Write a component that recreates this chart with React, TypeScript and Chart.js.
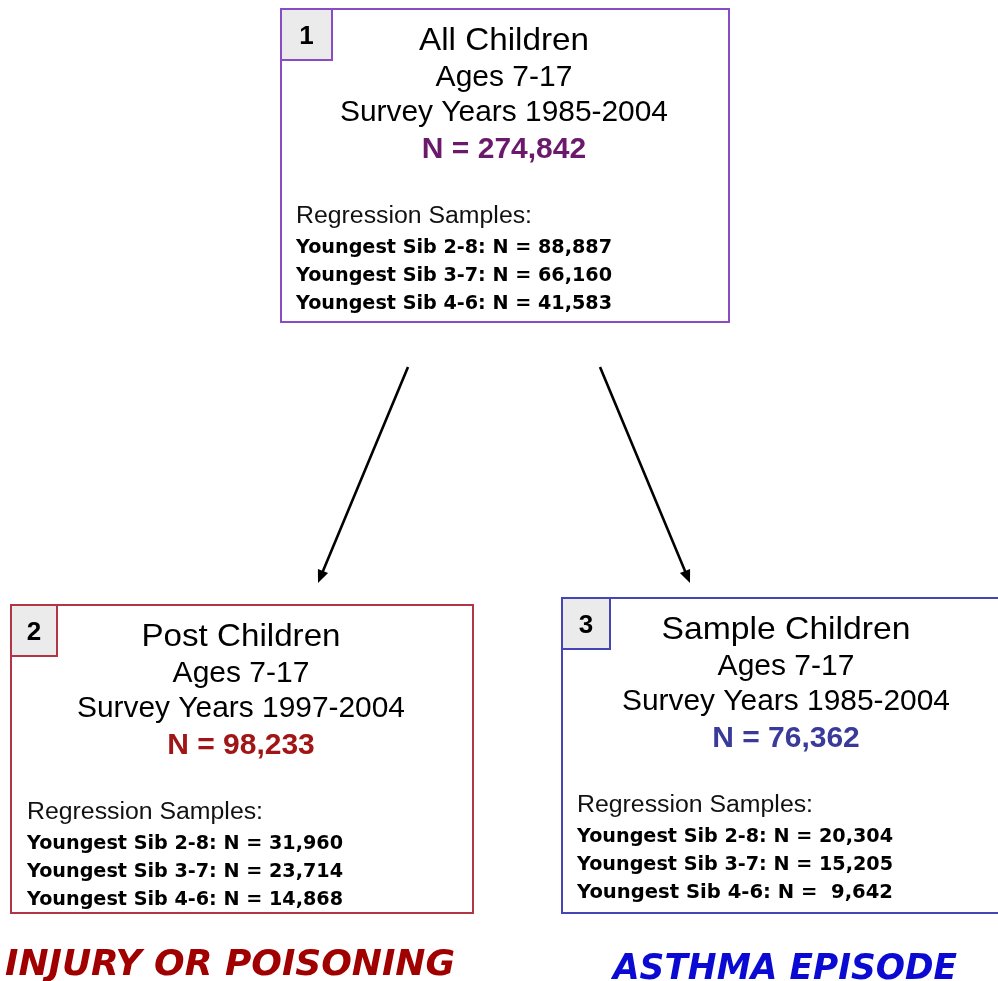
import React, { useEffect, useRef } from "react";
import { Chart, registerables } from "chart.js";

Chart.register(...registerables);

// ---- data ----
const boxNumbers = ["1", "2", "3"];
const boxTitles = ["All Children", "Post Children", "Sample Children"];
const boxAges = ["Ages 7-17", "Ages 7-17", "Ages 7-17"];
const boxYears = ["Survey Years 1985-2004", "Survey Years 1997-2004", "Survey Years 1985-2004"];
const boxTotals = [274842, 98233, 76362];
const sampleHeading = "Regression Samples:";
const sibGroups = ["Youngest Sib 2-8", "Youngest Sib 3-7", "Youngest Sib 4-6"];
const samplesAll = [88887, 66160, 41583];
const samplesPost = [31960, 23714, 14868];
const samplesSample = [20304, 15205, 9642];
const outcomeLabels = ["INJURY OR POISONING", "ASTHMA EPISODE"];

// ---- layout & style (page pixels) ----
const W = 998;
const H = 981;
const boxes = [
  { x: 281, y: 9, w: 448, h: 313, border: "#8a4cc4", totalColor: "#6b1a6b", cx: 504, samples: samplesAll, textX: 296, tabW: 51, tabH: 51, titleW: 170 },
  { x: 11, y: 605, w: 462, h: 308, border: "#b03545", totalColor: "#a01515", cx: 241, samples: samplesPost, textX: 27, tabW: 46, tabH: 51, titleW: 199 },
  { x: 562, y: 598, w: 450, h: 315, border: "#4545b5", totalColor: "#3a3a9a", cx: 786, samples: samplesSample, textX: 577, tabW: 48, tabH: 51, titleW: 249 },
];
const arrowLines = [
  [{ x: 408, y: 367 }, { x: 318, y: 583 }],
  [{ x: 600, y: 367 }, { x: 690, y: 583 }],
];
const outcomeStyle = [
  { x: 5, y: 975, w: 450, color: "#a00000" },
  { x: 613, y: 979, w: 344, color: "#0a0ad2" },
];

const fmt = (n: number) => n.toLocaleString("en-US");

function drawText(
  ctx: CanvasRenderingContext2D,
  text: string,
  x: number,
  y: number,
  font: string,
  color: string,
  align: "left" | "center",
  targetW?: number
) {
  ctx.save();
  ctx.font = font;
  ctx.fillStyle = color;
  ctx.textBaseline = "alphabetic";
  const m = ctx.measureText(text).width;
  const sx = targetW ? targetW / m : 1;
  const left = align === "center" ? x - (m * sx) / 2 : x;
  ctx.translate(left, y);
  ctx.scale(sx, 1);
  ctx.textAlign = "left";
  ctx.fillText(text, 0, 0);
  ctx.restore();
}

const flowPlugin = {
  id: "flow",
  beforeDraw(chart: any) {
    const ctx = chart.ctx;
    ctx.save();
    ctx.fillStyle = "#ffffff";
    ctx.fillRect(0, 0, chart.width, chart.height);
    ctx.restore();
  },
  afterDraw(chart: any) {
    const ctx: CanvasRenderingContext2D = chart.ctx;
    const xs = chart.scales.x;
    const ys = chart.scales.y;
    const px = (v: number) => xs.getPixelForValue(v);
    const py = (v: number) => ys.getPixelForValue(v);

    boxes.forEach((b, i) => {
      const x0 = px(b.x), y0 = py(b.y), x1 = px(b.x + b.w), y1 = py(b.y + b.h);
      ctx.save();
      ctx.strokeStyle = b.border;
      ctx.lineWidth = 2;
      ctx.strokeRect(x0, y0, x1 - x0, y1 - y0);
      // number tab
      const tx1 = px(b.x + b.tabW), ty1 = py(b.y + b.tabH);
      ctx.fillStyle = "#ebebeb";
      ctx.fillRect(x0, y0, tx1 - x0, ty1 - y0);
      ctx.strokeRect(x0, y0, tx1 - x0, ty1 - y0);
      ctx.restore();
      drawText(ctx, boxNumbers[i], (x0 + tx1) / 2, y0 + 35, "bold 26px 'Liberation Sans', Arial, sans-serif", "#000", "center");

      const cx = px(b.cx);
      const top = y0;
      drawText(ctx, boxTitles[i], cx, top + 41, "32px 'Liberation Sans', Arial, sans-serif", "#000", "center", b.titleW);
      drawText(ctx, boxAges[i], cx, top + 77, "30px 'Liberation Sans', Arial, sans-serif", "#000", "center");
      drawText(ctx, boxYears[i], cx, top + 112, "30px 'Liberation Sans', Arial, sans-serif", "#000", "center", 328);
      drawText(ctx, "N = " + fmt(boxTotals[i]), cx, top + 149, "bold 30px 'Liberation Sans', Arial, sans-serif", b.totalColor, "center");
      const tx = px(b.textX);
      drawText(ctx, sampleHeading, tx, top + 214, "23px 'Liberation Sans', Arial, sans-serif", "#111", "left", 236);
      sibGroups.forEach((g, k) => {
        const val = fmt(b.samples[k]).padStart(6, " ");
        drawText(ctx, `${g}: N = ${val}`, tx, top + 244 + k * 28, "bold 19.5px 'DejaVu Sans', Verdana, sans-serif", "#000", "left", 316);
      });
    });

    // arrowheads
    arrowLines.forEach((ln) => {
      const a = ln[0], e = ln[1];
      const ax = px(a.x), ay = py(a.y), ex = px(e.x), ey = py(e.y);
      const ang = Math.atan2(ey - ay, ex - ax);
      const L = 13, hw = 5.5;
      ctx.save();
      ctx.fillStyle = "#000";
      ctx.beginPath();
      ctx.moveTo(ex, ey);
      ctx.lineTo(ex - L * Math.cos(ang) + hw * Math.sin(ang), ey - L * Math.sin(ang) - hw * Math.cos(ang));
      ctx.lineTo(ex - L * Math.cos(ang) - hw * Math.sin(ang), ey - L * Math.sin(ang) + hw * Math.cos(ang));
      ctx.closePath();
      ctx.fill();
      ctx.restore();
    });

    outcomeLabels.forEach((t, i) => {
      const s = outcomeStyle[i];
      drawText(ctx, t, px(s.x), py(s.y), "italic bold 36px 'DejaVu Sans', Verdana, sans-serif", s.color, "left", s.w);
    });
  },
};

export default function App() {
  const ref = useRef<HTMLCanvasElement | null>(null);
  useEffect(() => {
    if (!ref.current) return;
    const shortened = arrowLines.map((ln) => {
      const a = ln[0], e = ln[1];
      const dx = e.x - a.x, dy = e.y - a.y;
      const len = Math.hypot(dx, dy);
      const k = (len - 10) / len;
      return [a, { x: a.x + dx * k, y: a.y + dy * k }];
    });
    const chart = new Chart(ref.current, {
      type: "scatter",
      data: {
        datasets: shortened.map((ln) => ({
          data: ln,
          showLine: true,
          borderColor: "#000",
          borderWidth: 2.6,
          pointRadius: 0,
          fill: false,
        })),
      },
      options: {
        animation: false,
        responsive: true,
        maintainAspectRatio: false,
        layout: { padding: 0 },
        plugins: { legend: { display: false }, tooltip: { enabled: false } },
        scales: {
          x: { type: "linear", min: 0, max: W, display: false },
          y: { type: "linear", min: 0, max: H, reverse: true, display: false },
        },
      },
      plugins: [flowPlugin],
    });
    return () => chart.destroy();
  }, []);
  return (
    <div style={{ position: "fixed", left: 0, top: 0, width: W, height: H, background: "#fff" }}>
      <canvas ref={ref} />
    </div>
  );
}
